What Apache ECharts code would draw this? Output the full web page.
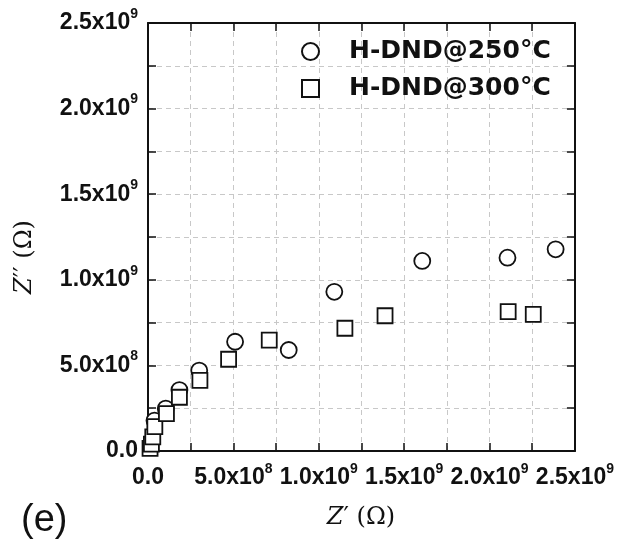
<!DOCTYPE html>
<html><head><meta charset="utf-8">
<script src="https://cdn.jsdelivr.net/npm/echarts@6/dist/echarts.min.js"></script>
<style>html,body{margin:0;padding:0;background:#fff}#c{width:617px;height:544px}</style>
</head><body><div id="c"></div>
<script>
// Data (Z' , Z'' in ohm)
const s250Name = 'H-DND@250°C';
const s250X = [0.038e9, 0.104e9, 0.184e9, 0.300e9, 0.510e9, 0.824e9, 1.091e9, 1.606e9, 2.105e9, 2.387e9];
const s250Y = [0.178e9, 0.248e9, 0.356e9, 0.470e9, 0.638e9, 0.590e9, 0.930e9, 1.110e9, 1.129e9, 1.178e9];
const s300Name = 'H-DND@300°C';
const s300X = [0.012e9, 0.020e9, 0.028e9, 0.040e9, 0.108e9, 0.184e9, 0.304e9, 0.472e9, 0.710e9, 1.153e9, 1.388e9, 2.109e9, 2.256e9];
const s300Y = [0.015e9, 0.040e9, 0.083e9, 0.142e9, 0.218e9, 0.314e9, 0.412e9, 0.536e9, 0.648e9, 0.717e9, 0.790e9, 0.814e9, 0.798e9];
const xTickMant = ['0.0', '5.0x10', '1.0x10', '1.5x10', '2.0x10', '2.5x10'];
const xTickExp  = ['', '8', '9', '9', '9', '9'];
const yTickMant = ['0.0', '5.0x10', '1.0x10', '1.5x10', '2.0x10', '2.5x10'];
const yTickExp  = ['', '8', '9', '9', '9', '9'];

const ink = '#111';
const rich = {
  b: {fontFamily: 'Liberation Sans', fontWeight: 'bold', fontSize: 23, color: ink, lineHeight: 32},
  s: {fontFamily: 'Liberation Sans', fontWeight: 'bold', fontSize: 14, color: ink, verticalAlign: 'top', lineHeight: 14}
};
function fmt(mant, exp) {
  return function (v) {
    const i = Math.round(v / 5e8);
    if (Math.abs(v - i * 5e8) > 1 || i < 0 || i >= mant.length) return '';
    return exp[i] ? '{b|' + mant[i] + '}{s|' + exp[i] + '}' : '{b|' + mant[i] + '}';
  };
}
const tickStyle = {show: true, inside: true, length: 8, lineStyle: {color: ink, width: 1.5}};
const gridLine = {show: true, lineStyle: {color: '#c8c8c8', type: [5, 4], width: 1}};
const axisLine = {show: true, onZero: false, lineStyle: {color: ink, width: 2}};

const chart = echarts.init(document.getElementById('c'), null, {renderer: 'canvas'});
chart.setOption({
  backgroundColor: '#fff',
  animation: false,
  grid: {left: 148, right: 42, top: 23, bottom: 93, show: false},
  xAxis: [
    {type: 'value', min: 0, max: 2.5e9, interval: 2.5e8, position: 'bottom',
     axisLine: axisLine, axisTick: tickStyle, splitLine: gridLine,
     axisLabel: {margin: 11, formatter: fmt(xTickMant, xTickExp), rich: rich}},
    {type: 'value', min: 0, max: 2.5e9, interval: 2.5e8, position: 'top',
     axisLine: axisLine, axisTick: tickStyle, splitLine: {show: false}, axisLabel: {show: false}}
  ],
  yAxis: [
    {type: 'value', min: 0, max: 2.5e9, interval: 2.5e8, position: 'left',
     axisLine: axisLine, axisTick: tickStyle, splitLine: gridLine,
     axisLabel: {margin: 10, formatter: fmt(yTickMant, yTickExp), rich: rich}},
    {type: 'value', min: 0, max: 2.5e9, interval: 2.5e8, position: 'right',
     axisLine: axisLine, axisTick: tickStyle, splitLine: {show: false}, axisLabel: {show: false}}
  ],
  legend: {
    orient: 'vertical', left: 296, top: 34, itemWidth: 17, itemHeight: 17, itemGap: 12,
    selectedMode: false,
    textStyle: {fontFamily: 'DejaVu Sans', fontWeight: 'bold', fontSize: 25, color: ink, padding: [0, 0, 0, 25]},
    data: [s250Name, s300Name]
  },
  series: [
    {name: s250Name, type: 'scatter', symbol: 'circle', symbolSize: 16,
     itemStyle: {color: '#fff', borderColor: ink, borderWidth: 1.8, opacity: 1},
     data: s250X.map((x, i) => [x, s250Y[i]])},
    {name: s300Name, type: 'scatter', symbol: 'rect', symbolSize: 15,
     itemStyle: {color: '#fff', borderColor: ink, borderWidth: 1.8, opacity: 1},
     data: s300X.map((x, i) => [x, s300Y[i]])}
  ],
  graphic: [
    {type: 'text', x: 361, y: 518, style: {
      text: '{i|Z}{n|′ (Ω)}', align: 'center', verticalAlign: 'middle',
      rich: {i: {fontFamily: 'DejaVu Serif', fontStyle: 'italic', fontSize: 24, fill: ink, color: ink},
             n: {fontFamily: 'DejaVu Serif', fontSize: 24, fill: ink, color: ink}}}},
    {type: 'text', x: 25, y: 257, rotation: Math.PI / 2, style: {
      text: '{i|Z}{n|′′ (Ω)}', align: 'center', verticalAlign: 'middle',
      rich: {i: {fontFamily: 'DejaVu Serif', fontStyle: 'italic', fontSize: 24, fill: ink, color: ink},
             n: {fontFamily: 'DejaVu Serif', fontSize: 24, fill: ink, color: ink}}}},
    {type: 'text', left: 21, top: 502, style: {
      text: '(e)', fontFamily: 'Liberation Sans', fontSize: 38, fill: ink}}
  ]
});
</script></body></html>
